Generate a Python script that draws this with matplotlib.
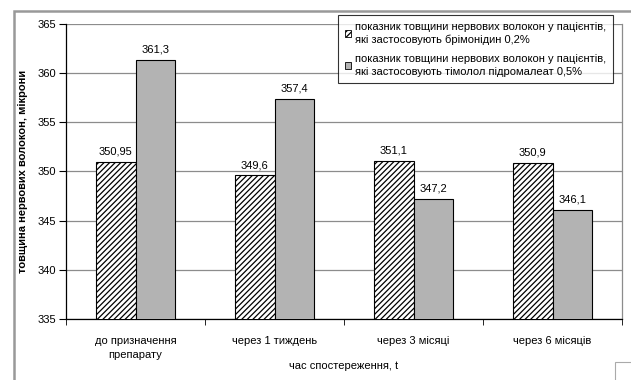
import matplotlib
matplotlib.use('Agg')
import matplotlib.pyplot as plt
import numpy as np
from matplotlib.patches import Rectangle, Patch

plt.rcParams['font.family'] = ['Liberation Sans', 'DejaVu Sans']
plt.rcParams['hatch.linewidth'] = 0.9

# Дані
categories = ['до призначення\nпрепарату', 'через 1 тиждень', 'через 3 місяці', 'через 6 місяців']
brimonidine = [350.95, 349.6, 351.1, 350.9]
timolol = [361.3, 357.4, 347.2, 346.1]
series_names = ['показник товщини нервових волокон у пацієнтів,\nякі застосовують брімонідин 0,2%',
                'показник товщини нервових волокон у пацієнтів,\nякі застосовують тімолол підромалеат 0,5%']

W, H = 631, 380
fs = 8
fig = plt.figure(figsize=(W / 100, H / 100), dpi=100)
ax = fig.add_axes([66 / W, 1 - 319 / H, (622 - 66) / W, (319 - 24) / H])

x = np.arange(len(categories))
bw = 0.285
ax.bar(x - bw / 2, brimonidine, bw, color='white', edgecolor='black',
       hatch='//////', linewidth=0.8, zorder=3)
ax.bar(x + bw / 2, timolol, bw, color='#b3b3b3', edgecolor='black', linewidth=0.8, zorder=3)

def fmt(v):
    return ('%g' % v).replace('.', ',')

for xi, v in zip(x - bw / 2, brimonidine):
    ax.text(xi, v + 0.55, fmt(v), ha='center', va='bottom', fontsize=fs)
for xi, v in zip(x + bw / 2, timolol):
    ax.text(xi, v + 0.55, fmt(v), ha='center', va='bottom', fontsize=fs)

ax.set_ylim(335, 365)
ax.set_xlim(-0.5, len(categories) - 0.5)
ax.set_yticks(range(335, 366, 5))
ax.yaxis.grid(True, color='#8c8c8c', linewidth=0.9, zorder=0)
ax.set_axisbelow(True)

ax.set_xticks(x)
ax.set_xticklabels(categories, fontsize=fs, linespacing=1.5)
ax.set_xticks(np.arange(-0.5, len(categories)), minor=True)
ax.tick_params(axis='x', which='major', length=0, pad=12)
ax.tick_params(axis='x', which='minor', length=4, direction='out', color='black')
ax.tick_params(axis='y', length=5, direction='out', labelsize=fs, pad=2)

ax.spines['top'].set_visible(False)
ax.spines['right'].set_color('#8c8c8c')
ax.spines['right'].set_linewidth(0.9)
ax.spines['left'].set_linewidth(0.9)
ax.spines['bottom'].set_linewidth(0.9)

ax.set_ylabel('товщина нервових волокон, мікрони', fontsize=fs, fontweight='bold', labelpad=7)
fig.text(344 / W, 1 - 366 / H, 'час спостереження, t', ha='center', va='center', fontsize=fs)

handles = [Patch(facecolor='white', edgecolor='black', hatch='//////', linewidth=0.6),
           Patch(facecolor='#b3b3b3', edgecolor='black', linewidth=0.6)]
leg = fig.legend(handles, series_names, loc='upper left', bbox_to_anchor=(338 / W, 1 - 15 / H),
                 fontsize=fs, frameon=True, fancybox=False, edgecolor='black',
                 handlelength=0.6, handleheight=0.6, handletextpad=0.35, labelspacing=0.8,
                 borderpad=0.6, borderaxespad=0, prop={'size': fs})
for t in leg.get_texts():
    t.set_linespacing(1.35)
leg.get_frame().set_linewidth(0.8)

# рамка навколо діаграми
fig.add_artist(Rectangle((14 / W, -0.1), 1.2, 1 - 11 / H + 0.1, transform=fig.transFigure,
                         fill=False, edgecolor='#999999', linewidth=1.8))
fig.add_artist(Rectangle((615 / W, -0.1), 0.2, 0.1 + 1 - 362 / H, transform=fig.transFigure,
                         fill=False, edgecolor='#aaaaaa', linewidth=0.8))

fig.savefig('out.png', dpi=100)
